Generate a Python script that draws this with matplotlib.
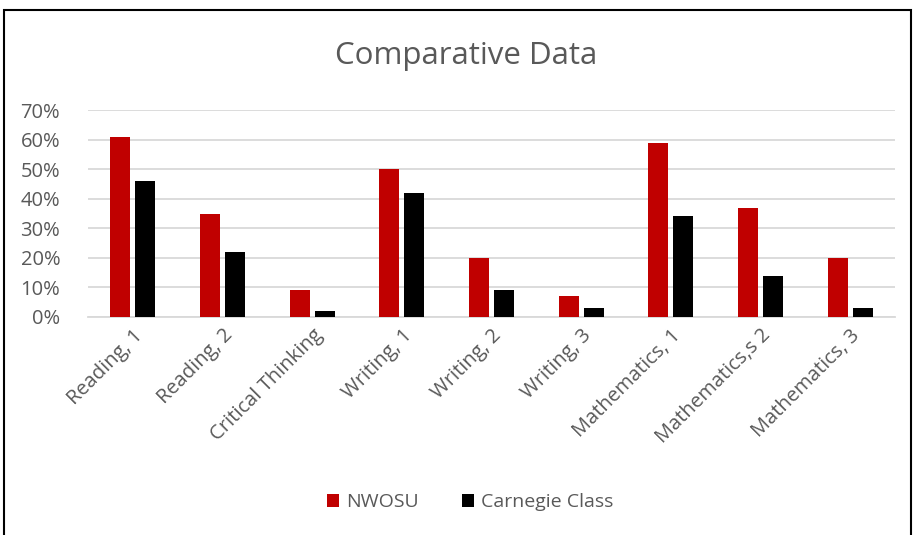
import numpy as np
import matplotlib.pyplot as plt
from matplotlib.patches import Rectangle
from matplotlib.ticker import PercentFormatter

categories = ['Reading, 1', 'Reading, 2', 'Critical Thinking', 'Writing, 1', 'Writing, 2',
              'Writing, 3', 'Mathematics, 1', 'Mathematics,s 2', 'Mathematics, 3']
nwosu = [61, 35, 9, 50, 20, 7, 59, 37, 20]
carnegie = [46, 22, 2, 42, 9, 3, 34, 14, 3]

plt.rcParams['font.family'] = ['Open Sans', 'DejaVu Sans']
grey = '#595959'

W, H = 913, 535
fig = plt.figure(figsize=(W / 100, H / 100), dpi=100)
ax = fig.add_axes([88 / W, 1 - 317 / H, (895 - 88) / W, (317 - 110) / H])

x = np.arange(len(categories))
bw = 0.223
ax.bar(x - 0.14, nwosu, bw, color='#C00000', label='NWOSU', zorder=3)
ax.bar(x + 0.14, carnegie, bw, color='#000000', label='Carnegie Class', zorder=3)

ax.set_xlim(-0.5, len(categories) - 0.5)
ax.set_ylim(0, 70)
ax.set_yticks(range(0, 71, 10))
ax.yaxis.set_major_formatter(PercentFormatter(decimals=0))
ax.grid(axis='y', color='#d9d9d9', linewidth=1.3, zorder=0)
for s in ax.spines.values():
    s.set_visible(False)
ax.spines['bottom'].set_visible(True)
ax.spines['bottom'].set_color('#d9d9d9')
ax.spines['bottom'].set_linewidth(1.3)
ax.tick_params(length=0, colors=grey, labelsize=14.5)
ax.tick_params(axis='y', pad=20)
ax.tick_params(axis='x', pad=6)
ax.set_xticks(x)
ax.set_xticklabels(categories, rotation=45, ha='right', rotation_mode='anchor')

fig.text(466 / W, 1 - 56 / H, 'Comparative Data', ha='center', va='center',
         fontsize=22.5, color=grey)

fig.legend(loc='center', bbox_to_anchor=(470 / W, 1 - 502 / H), ncol=2, frameon=False,
           fontsize=14, labelcolor=grey, handlelength=0.65, handleheight=0.65,
           columnspacing=2.2, handletextpad=0.35)

fig.patches.append(Rectangle((4 / W, -0.05), (907) / W, 1.05 - 10 / H, transform=fig.transFigure,
                             fill=False, edgecolor='black', linewidth=1.5))

fig.savefig('out.png', dpi=100)
